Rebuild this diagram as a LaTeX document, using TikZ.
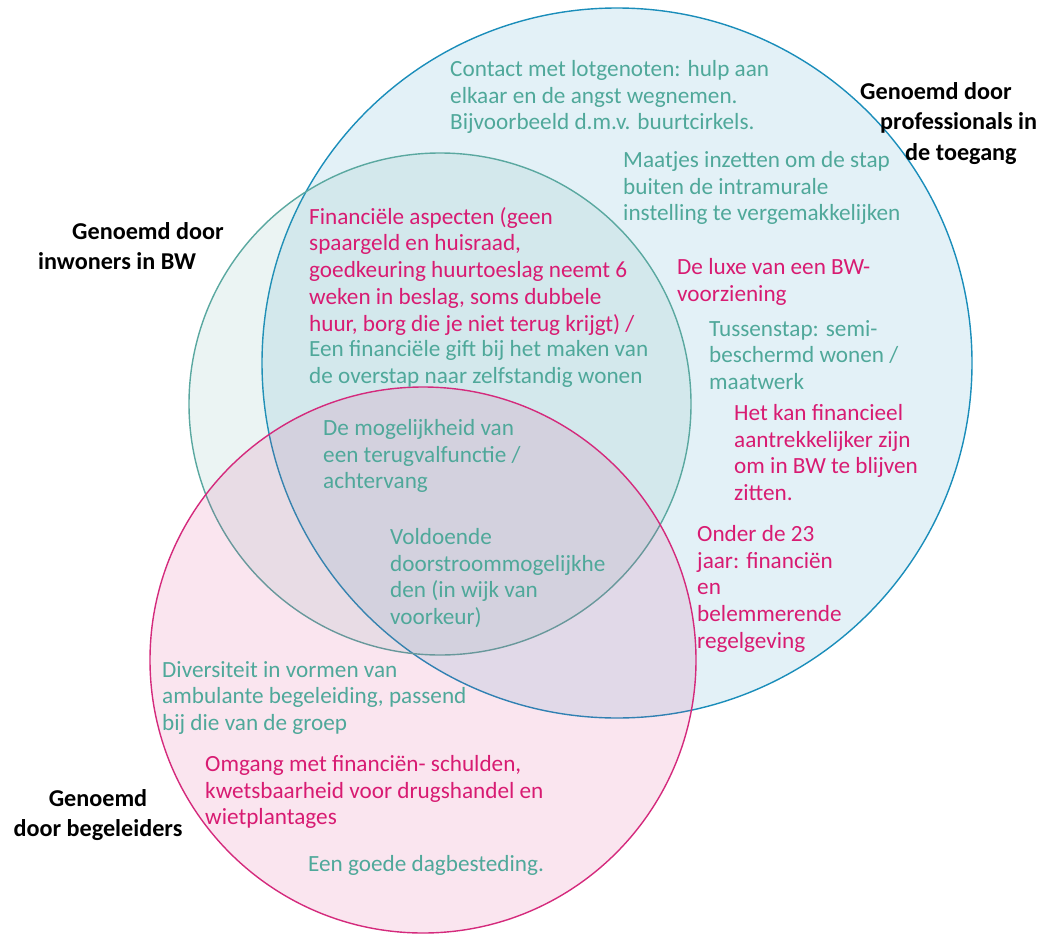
\documentclass[tikz,border=0pt]{standalone}
\usepackage{fontspec}
\setmainfont{Carlito}
\definecolor{ringblue}{HTML}{1A8DBA}
\definecolor{ringgreen}{HTML}{5AA8A0}
\definecolor{ringpink}{HTML}{D42A7C}
\definecolor{txtteal}{HTML}{4FA89A}
\definecolor{txtpink}{HTML}{D81B72}

\begin{document}
\begin{tikzpicture}[x=1pt, y=-1pt,
    ring/.style={line width=1.4pt, fill opacity=0.12},
    item/.style={anchor=north west, inner sep=0pt, align=left, font=\fontsize{23.2}{26.8}\selectfont},
    tealtext/.style={item, text=txtteal},
    pinktext/.style={item, text=txtpink},
    grouplabel/.style={anchor=north west, inner sep=0pt, align=left, font=\fontsize{24.2}{30.5}\selectfont\bfseries}]
    \useasboundingbox (0,0) rectangle (1057,934);

    \draw[ring, draw=ringblue, fill=ringblue] (617,363) circle[radius=355pt];
    \draw[ring, draw=ringgreen, fill=ringgreen] (440,404) circle[radius=251pt];
    \draw[ring, draw=ringpink, fill=ringpink] (423,660) circle[radius=273pt];

    \node[grouplabel] (prof) at (860,82) {Genoemd door\\\hspace*{20pt}professionals in\\\hspace*{45pt}de toegang};
    \node[grouplabel] (inwoners) at (38,222) {\hspace*{34pt}Genoemd door\\inwoners in BW};
    \node[grouplabel, anchor=north, align=center] (begeleiders) at (98,789) {Genoemd\\door begeleiders};

    \node[tealtext] (lotgenoten) at (450,60) {Contact met lotgenoten: hulp aan\\elkaar en de angst wegnemen.\\Bijvoorbeeld d.m.v. buurtcirkels.};
    \node[tealtext] (maatjes) at (623,151) {Maatjes inzetten om de stap\\buiten de intramurale\\instelling te vergemakkelijken};
    \node[pinktext] (financieel) at (309,207) {Financiële aspecten (geen\\spaargeld en huisraad,\\goedkeuring huurtoeslag neemt 6\\weken in beslag, soms dubbele\\huur, borg die je niet terug krijgt) /};
    \node[tealtext] (gift) at (309,340) {Een financiële gift bij het maken van\\de overstap naar zelfstandig wonen};
    \node[pinktext] (luxe) at (677,258) {De luxe van een BW-\\voorziening};
    \node[tealtext] (tussenstap) at (709,320) {Tussenstap: semi-\\beschermd wonen /\\maatwerk};
    \node[pinktext] (blijven) at (734,404) {Het kan financieel\\aantrekkelijker zijn\\om in BW te blijven\\zitten.};
    \node[pinktext] (onder23) at (697,525) {Onder de 23\\jaar: financiën\\en\\belemmerende\\regelgeving};
    \node[tealtext] (terugval) at (323,419) {De mogelijkheid van\\een terugvalfunctie /\\achtervang};
    \node[tealtext] (doorstroom) at (390,528) {Voldoende\\doorstroommogelijkhe\\den (in wijk van\\voorkeur)};
    \node[tealtext] (ambulant) at (162,661) {Diversiteit in vormen van\\ambulante begeleiding, passend\\bij die van de groep};
    \node[pinktext] (schulden) at (205,755) {Omgang met financiën- schulden,\\kwetsbaarheid voor drugshandel en\\wietplantages};
    \node[tealtext] (dagbesteding) at (308,855) {Een goede dagbesteding.};
\end{tikzpicture}
\end{document}
